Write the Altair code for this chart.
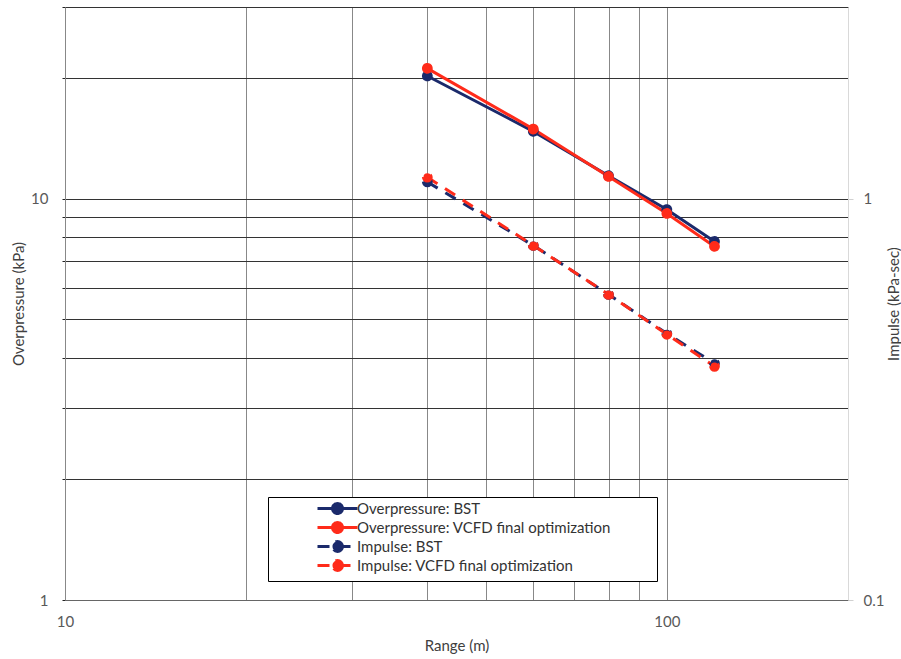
import altair as alt
import pandas as pd

# ---- data ----
ranges = [40, 60, 80, 100, 120]
op_bst = [20.2, 14.7, 11.4, 9.39, 7.82]
op_vcfd = [21.1, 14.9, 11.35, 9.18, 7.6]
imp_bst = [1.10, 0.764, 0.577, 0.461, 0.389]
imp_vcfd = [1.13, 0.764, 0.577, 0.459, 0.382]

series_names = [
    "Overpressure: BST",
    "Overpressure: VCFD final optimization",
    "Impulse: BST",
    "Impulse: VCFD final optimization",
]
series_colors = ["#1B2A6B", "#FF2B1A", "#1B2A6B", "#FF2B1A"]
series_dash = [[1, 0], [1, 0], [12, 9], [12, 9]]
IMP_DASH = [12, 9]
# line colours (BST navy, VCFD red) for the alphabetical series order
line_colors = ["#1B2A6B", "#FF2B1A", "#1B2A6B", "#FF2B1A"]

x_grid = [10, 20, 30, 40, 50, 60, 70, 80, 90, 100, 200]
op_grid = [1, 2, 3, 4, 5, 6, 7, 8, 9, 10, 20, 30]
imp_ticks = [0.1, 1]

op_df = pd.DataFrame({
    "range": ranges * 2,
    "value": op_bst + op_vcfd,
    "series": [series_names[0]] * 5 + [series_names[1]] * 5,
})
imp_df = pd.DataFrame({
    "range": ranges * 2,
    "value": imp_bst + imp_vcfd,
    "series": [series_names[2]] * 5 + [series_names[3]] * 5,
})

FONT = "Lato"
FS = 15
LEG_PATH = "M-4,0L4,0M1,0A1,1,0,1,1,-1,0A1,1,0,1,1,1,0Z"

leg = alt.Legend(
    title=" ", titleOrient="right", titlePadding=42,
    orient="none", legendX=203, legendY=490, direction="vertical",
    symbolType=LEG_PATH, symbolSize=100, symbolStrokeWidth=3,
    symbolOffset=58, labelOffset=12, rowPadding=-4, padding=4,
    strokeColor="black", fillColor="white", cornerRadius=0,
    labelFont=FONT, labelFontSize=FS, labelColor="#333333", labelLimit=500,
)

point_scale = alt.Scale(domain=series_names, range=series_colors)
dash_scale = alt.Scale(domain=series_names, range=series_dash)
line_scale = alt.Scale(range=line_colors)

x_enc = alt.X(
    "range:Q",
    scale=alt.Scale(type="log", domain=[10, 200]),
    axis=alt.Axis(
        values=x_grid, format="~g",
        labelExpr="datum.value == 10 || datum.value == 100 ? datum.label : ''",
        grid=True, gridColor="#888888", gridWidth=1, ticks=False,
        domainColor="#666666", labelPadding=14, labelFlush=False,
        labelFont=FONT, labelFontSize=FS, labelColor="#595959",
        title="Range (m)", titleFont=FONT, titleFontSize=FS, titleFontWeight="normal",
        titleColor="#404040", titleY=45, titleBaseline="middle",
    ),
)

y_op = alt.Y(
    "value:Q",
    scale=alt.Scale(type="log", domain=[1, 30]),
    axis=alt.Axis(
        values=op_grid, format="~g",
        labelExpr="datum.value == 1 || datum.value == 10 ? datum.label : ''",
        grid=True, gridColor="#333333", gridWidth=1,
        ticks=True, tickSize=3, tickColor="#222222",
        domainColor="#888888", labelPadding=14, labelFlush=False,
        labelFont=FONT, labelFontSize=FS, labelColor="#595959",
        title="Overpressure (kPa)", titleFont=FONT, titleFontSize=FS,
        titleFontWeight="normal", titleColor="#404040",
        titleX=-47, titleAngle=270, titleBaseline="middle",
    ),
)

y_imp = alt.Y(
    "value:Q",
    scale=alt.Scale(type="log", domain=[0.1, 3]),
    axis=alt.Axis(
        orient="right", values=imp_ticks, format="~g",
        grid=False, ticks=True, tickSize=5, tickColor="#d0d0d0",
        domainColor="#d9d9d9", labelPadding=10, labelFlush=False,
        labelFont=FONT, labelFontSize=FS, labelColor="#595959",
        title="Impulse (kPa-sec)", titleFont=FONT, titleFontSize=FS,
        titleFontWeight="normal", titleColor="#404040",
        titleX=45, titleAngle=270, titleBaseline="middle",
    ),
)

op_lines = alt.Chart(op_df).mark_line(strokeWidth=3).encode(
    x=x_enc, y=y_op,
    color=alt.Color("series:N", scale=line_scale, legend=None),
)
op_points = alt.Chart(op_df).mark_circle(size=60, strokeWidth=3, opacity=1).encode(
    x=x_enc, y=y_op,
    fill=alt.Fill("series:N", scale=point_scale, legend=leg),
    stroke=alt.Stroke("series:N", scale=point_scale, legend=leg),
    strokeDash=alt.StrokeDash("series:N", scale=dash_scale, legend=leg),
)
imp_lines = alt.Chart(imp_df).mark_line(strokeWidth=3, strokeDash=IMP_DASH).encode(
    x=x_enc, y=y_imp,
    color=alt.Color("series:N", scale=line_scale, legend=None),
)
imp_points = alt.Chart(imp_df).mark_circle(size=60, strokeWidth=3, opacity=1).encode(
    x=x_enc, y=y_imp,
    fill=alt.Fill("series:N", scale=point_scale, legend=leg),
    stroke=alt.Stroke("series:N", scale=point_scale, legend=leg),
    strokeDash=alt.StrokeDash("series:N", scale=dash_scale, legend=leg),
)

op_layer = alt.layer(op_lines, op_points)
imp_layer = alt.layer(imp_lines, imp_points)

chart = alt.layer(op_layer, imp_layer).resolve_scale(y="independent").properties(
    width=783, height=593,
    autosize=alt.AutoSizeParams(type="none"),
    padding={"left": 65, "top": 7, "right": 53, "bottom": 59},
    background="white",
).configure_view(stroke=None)

chart.save("out.html", embed_options={"renderer": "svg", "actions": False})
